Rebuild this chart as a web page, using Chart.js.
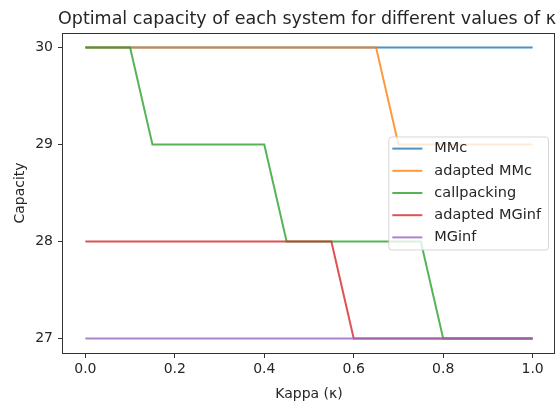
<!DOCTYPE html>
<html>
<head>
<meta charset="utf-8">
<script src="https://cdn.jsdelivr.net/npm/chart.js@4/dist/chart.umd.min.js"></script>
<style>
  html, body { margin: 0; padding: 0; background: #fff; }
  #wrap { width: 557px; height: 406px; }
</style>
</head>
<body>
<div id="wrap"><canvas id="c" width="557" height="406"></canvas></div>
<script>
// Kappa values (x) and optimal capacity of each system (y)
const kappa        = [0, 0.05, 0.1, 0.15, 0.2, 0.25, 0.3, 0.35, 0.4, 0.45, 0.5, 0.55, 0.6, 0.65, 0.7, 0.75, 0.8, 0.85, 0.9, 0.95, 1.0];
const mmc          = [30, 30, 30, 30, 30, 30, 30, 30, 30, 30, 30, 30, 30, 30, 30, 30, 30, 30, 30, 30, 30];
const adaptedMMc   = [30, 30, 30, 30, 30, 30, 30, 30, 30, 30, 30, 30, 30, 30, 29, 29, 29, 29, 29, 29, 29];
const callpacking  = [30, 30, 30, 29, 29, 29, 29, 29, 29, 28, 28, 28, 28, 28, 28, 28, 27, 27, 27, 27, 27];
const adaptedMGinf = [28, 28, 28, 28, 28, 28, 28, 28, 28, 28, 28, 28, 27, 27, 27, 27, 27, 27, 27, 27, 27];
const mginf        = [27, 27, 27, 27, 27, 27, 27, 27, 27, 27, 27, 27, 27, 27, 27, 27, 27, 27, 27, 27, 27];

const seriesNames  = ['MMc', 'adapted MMc', 'callpacking', 'adapted MGinf', 'MGinf'];
const seriesValues = [mmc, adaptedMMc, callpacking, adaptedMGinf, mginf];
const seriesColors = ['rgba(31,119,180,0.8)', 'rgba(255,127,14,0.8)', 'rgba(44,160,44,0.8)', 'rgba(214,39,40,0.8)', 'rgba(148,103,189,0.8)'];

const xTicks = [0, 0.2, 0.4, 0.6, 0.8, 1.0];
const yTicks = [27, 28, 29, 30];

const titleText = 'Optimal capacity of each system for different values of \u03BA';
const FONT = "'DejaVu Sans', sans-serif";
const INK = '#262626';

const datasets = seriesNames.map((name, i) => ({
  label: name,
  data: kappa.map((k, j) => ({ x: k, y: seriesValues[i][j] })),
  borderColor: seriesColors[i],
  backgroundColor: seriesColors[i],
  borderWidth: 2,
  pointRadius: 0,
  fill: false,
  tension: 0,
  // later series sit on top of earlier ones
  order: seriesNames.length - 1 - i
}));

// Frame, title and an in-axes legend at the centre right
const decor = {
  id: 'decor',
  afterDraw(chart) {
    const ctx = chart.ctx;
    const a = chart.chartArea;
    ctx.save();
    // frame around the plot area
    ctx.strokeStyle = '#333';
    ctx.lineWidth = 1;
    ctx.strokeRect(Math.round(a.left) - 0.5, Math.round(a.top) + 0.5,
                   Math.round(a.right - a.left), Math.round(a.bottom - a.top));

    // title
    ctx.fillStyle = INK;
    ctx.font = '17.5px ' + FONT;
    ctx.textAlign = 'center';
    ctx.textBaseline = 'alphabetic';
    ctx.fillText(titleText, (a.left + a.right) / 2 - 2, a.top - 9);

    // legend
    ctx.font = '14.5px ' + FONT;
    let maxW = 0;
    seriesNames.forEach(n => { maxW = Math.max(maxW, ctx.measureText(n).width); });
    const handle = 30, textOff = 46, pitch = 22.2;
    const w = textOff + maxW + 7;
    const h = 113;
    const right = a.right - 7;
    const cy = (a.top + a.bottom) / 2;
    const x0 = right - w, y0 = cy - h / 2;
    ctx.beginPath();
    if (ctx.roundRect) ctx.roundRect(x0 + 0.5, y0 + 0.5, w, h, 3); else ctx.rect(x0 + 0.5, y0 + 0.5, w, h);
    ctx.fillStyle = 'rgba(255,255,255,0.8)';
    ctx.fill();
    ctx.strokeStyle = 'rgba(204,204,204,0.8)';
    ctx.lineWidth = 1;
    ctx.stroke();
    seriesNames.forEach((n, i) => {
      const ry = cy + (i - 2) * pitch;
      ctx.beginPath();
      ctx.strokeStyle = seriesColors[i];
      ctx.lineWidth = 2;
      ctx.moveTo(x0 + 4, ry);
      ctx.lineTo(x0 + 4 + handle, ry);
      ctx.stroke();
      ctx.fillStyle = INK;
      ctx.textAlign = 'left';
      ctx.textBaseline = 'middle';
      ctx.fillText(n, x0 + textOff, ry);
    });
    ctx.restore();
  }
};

new Chart(document.getElementById('c'), {
  type: 'line',
  data: { datasets },
  options: {
    responsive: false,
    animation: false,
    devicePixelRatio: 1,
    layout: { padding: { top: 33, right: 2, left: 0, bottom: 0 } },
    plugins: { legend: { display: false }, title: { display: false }, tooltip: { enabled: false } },
    scales: {
      x: {
        type: 'linear',
        min: -0.05,
        max: 1.05,
        afterFit(scale) { scale.height = 53; },
        afterBuildTicks(scale) { scale.ticks = xTicks.map(v => ({ value: v })); },
        ticks: {
          color: INK,
          font: { family: FONT, size: 14 },
          padding: 3,
          maxRotation: 0,
          autoSkip: false,
          callback: v => Number(v).toFixed(1)
        },
        grid: { display: true, drawOnChartArea: false, drawTicks: true, tickLength: 5, color: '#333' },
        border: { display: false },
        title: { display: true, text: 'Kappa (\u03BA)', color: INK, font: { family: FONT, size: 14 }, padding: { top: 0, bottom: 3 } }
      },
      y: {
        type: 'linear',
        min: 26.85,
        max: 30.15,
        afterFit(scale) { scale.width = 63; },
        afterBuildTicks(scale) { scale.ticks = yTicks.map(v => ({ value: v })); },
        ticks: {
          color: INK,
          font: { family: FONT, size: 14 },
          padding: 5,
          autoSkip: false,
          callback: v => String(v)
        },
        grid: { display: true, drawOnChartArea: false, drawTicks: true, tickLength: 5, color: '#333' },
        border: { display: false },
        title: { display: true, text: 'Capacity', color: INK, font: { family: FONT, size: 14 }, padding: { top: 12, bottom: 0 } }
      }
    }
  },
  plugins: [decor]
});
</script>
</body>
</html>
